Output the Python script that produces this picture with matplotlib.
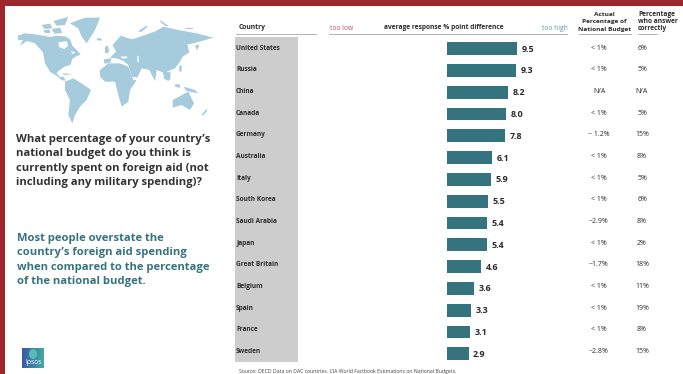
import matplotlib
matplotlib.use("Agg")
import matplotlib.pyplot as plt
import numpy as np
from matplotlib.patches import Rectangle, Polygon, Ellipse
from matplotlib.transforms import Affine2D

W, H = 683, 374
countries = ["United States", "Russia", "China", "Canada", "Germany", "Australia", "Italy",
             "South Korea", "Saudi Arabia", "Japan", "Great Britain", "Belgium", "Spain",
             "France", "Sweden"]
difference = [9.5, 9.3, 8.2, 8.0, 7.8, 6.1, 5.9, 5.5, 5.4, 5.4, 4.6, 3.6, 3.3, 3.1, 2.9]
actual = ["< 1%", "< 1%", "N/A", "< 1%", "~ 1.2%", "< 1%", "< 1%", "< 1%", "~2.9%", "< 1%",
          "~1.7%", "< 1%", "< 1%", "< 1%", "~2.8%"]
correct = ["6%", "5%", "N/A", "5%", "15%", "8%", "5%", "6%", "8%", "2%", "18%", "11%", "19%", "8%", "15%"]

RED = "#9c272d"
TEAL = "#35747f"
DARK = "#2b2b2b"
MAP = "#a5cbdd"
plt.rcParams["font.family"] = ["Open Sans", "DejaVu Sans"]

fig = plt.figure(figsize=(W / 100, H / 100), dpi=100)
px = Affine2D().scale(1 / W, -1 / H).translate(0, 1) + fig.transFigure


def rect(x, y, w, h, c, z=1):
    fig.add_artist(Rectangle((x, y), w, h, transform=px, fc=c, ec="none", zorder=z))


def label(x, y, s, size=6, weight="normal", color=DARK, ha="left", va="center", **kw):
    fig.text(x, y, s, transform=px, fontsize=size, fontweight=weight, color=color, ha=ha, va=va, **kw)


# frame
rect(0, 0, W, 6.3, RED)
rect(0, 0, 5, H, RED)

west = [
    [(8, 62), (30, 55), (60, 58), (85, 62), (105, 66), (125, 62), (150, 64), (165, 72), (172, 92),
     (185, 105), (197, 118), (182, 125), (172, 132), (166, 150), (148, 155), (135, 165), (125, 172), (133, 185), (146, 186),
     (152, 197), (140, 196), (125, 182), (105, 170), (90, 145), (84, 112), (60, 85), (36, 78), (15, 92), (24, 75), (10, 76)],
    [(165, 25), (210, 8), (255, 8), (240, 45), (215, 85), (200, 65), (190, 40)],
    [(150, 200), (175, 190), (200, 205), (228, 225), (215, 255), (195, 275), (180, 300), (172, 325), (160, 300), (165, 255), (150, 225)],
    [(80, 30), (105, 26), (112, 40), (88, 42)], [(115, 18), (160, 6), (150, 30), (125, 32)], [(110, 42), (135, 38), (142, 54), (118, 56)],
    [(85, 46), (105, 44), (105, 54), (90, 54)], [(245, 70), (260, 70), (258, 77), (246, 76)], [(140, 174), (172, 178), (150, 180)],
]
west_seas = [[(130, 82), (155, 78), (160, 92), (148, 102), (132, 96)], [(168, 108), (182, 112), (172, 118)]]
east = [
    [(0, 165), (25, 145), (60, 145), (85, 155), (100, 195), (110, 195), (90, 225), (85, 260), (65, 275), (55, 240), (45, 200), (15, 200), (0, 185)],
    [(30, 128), (48, 110), (38, 90), (62, 62), (85, 70), (100, 72), (130, 62), (168, 48), (190, 35), (235, 45), (290, 55), (340, 68),
     (305, 78), (280, 85), (262, 88), (268, 112), (248, 125), (240, 140), (225, 160), (205, 168), (195, 175), (208, 198), (198, 195),
     (188, 172), (170, 165), (165, 198), (148, 165), (125, 160), (118, 175), (112, 188), (96, 185), (85, 150), (70, 138), (50, 130), (30, 128)],
    [(12, 133), (35, 130), (30, 143), (13, 146)], [(15, 95), (24, 92), (28, 112), (15, 115)],
    [(190, 170), (212, 172), (210, 195), (192, 192)], [(218, 255), (250, 238), (265, 230), (282, 265), (270, 285), (245, 270), (218, 278)],
    [(225, 208), (240, 208), (240, 218), (226, 216)], [(250, 215), (285, 225), (295, 235), (260, 228)],
    [(305, 298), (322, 280), (320, 290), (308, 302)], [(255, 38), (280, 38), (280, 43), (258, 43)],
    [(115, 48), (140, 32), (142, 36), (122, 52)], [(285, 92), (298, 88), (292, 106)], [(180, 15), (205, 32), (198, 34), (182, 22)],
    [(238, 152), (246, 152), (244, 170), (238, 170)],
]
east_seas = [[(62, 125), (82, 124), (80, 130), (65, 130)], [(112, 122), (116, 123), (116, 143), (112, 141)]]
for shapes, ox, color, z in [(west, 15, MAP, 2), (east, 100, MAP, 2), (west_seas, 15, "white", 3), (east_seas, 100, "white", 3)]:
    for poly in shapes:
        fig.add_artist(Polygon([(ox + x / 3, 15 + y / 3) for x, y in poly], closed=True, transform=px, fc=color, ec="none", zorder=z))

# left text
for y, s in zip([139.3, 153.9, 168.6, 183.0],
                ["What percentage of your country\u2019s", "national budget do you think is",
                 "currently spent on foreign aid (not", "including any military spending)?"]):
    label(16, y, s, size=8.13, weight="bold", color="#333333")
for y, s in zip([238.3, 253.0, 267.6, 281.8],
                ["Most people overstate the", "country\u2019s foreign aid spending",
                 "when compared to the percentage", "of the national budget."]):
    label(17, y, s, size=8.13, weight="bold", color=TEAL)

# logo
grad = np.linspace(0, 1, 24)[None, :]
lax = fig.add_axes([22 / W, 1 - 368 / H, 22 / W, 20 / H])
lax.imshow(grad, aspect="auto", cmap=matplotlib.colors.LinearSegmentedColormap.from_list("l", ["#3a5aa8", "#45a8a6"]))
lax.axis("off")
fig.add_artist(Ellipse((33, 354), 8, 10, transform=px, fc="#56bdb5", ec="none", zorder=5))
label(33, 362.7, "Ipsos", size=4.8, color="white", ha="center", zorder=6)

# table background
rect(235, 37, 63, 325, "#cdcdcd", 0)

# headers
for x0, x1 in [(236, 317), (329, 568), (579, 632), (638, 658)]:
    rect(x0, 33.7, x1 - x0, 1.2, "#b5b5b5")
label(239, 27.5, "Country", size=4.9, weight="bold")
label(330, 28, "too low", size=4.9, color="#c8506b")
label(444, 27.5, "average response % point difference", size=4.75, weight="bold", ha="center")
label(568, 28, "too high", size=4.9, color="#5f9ea5", ha="right")
for y, s in zip([14, 21, 29], ["Actual", "Percentage of", "National Budget"]):
    label(604.5, y, s, size=4.65, weight="bold", ha="center")
for y, s in zip([14.7, 21.7, 29], ["Percentage", "who answer", "correctly"]):
    label(638, y, s, size=4.75, weight="bold")

# bars (data axis)
x0_px, unit = 447.0, 7.42
top, step = 48.6, 21.8
left_px, right_px, top_px, bot_px = 330, 568, 37, 362
ax = fig.add_axes([left_px / W, 1 - bot_px / H, (right_px - left_px) / W, (bot_px - top_px) / H])
ax.set_xlim((left_px - x0_px) / unit, (right_px - x0_px) / unit)
ax.set_ylim((bot_px - top) / step, (top_px - top) / step)
ax.axis("off")
rows = list(range(len(countries)))
ax.barh(rows, difference, height=12.8 / step, color=TEAL, edgecolor="none")
for r, v in zip(rows, difference):
    ax.text(v + 0.6, r + 0.02, f"{v:.1f}", fontsize=6.4, fontweight="bold", color=DARK, va="center", ha="left")

label_step = 21.67
for r, c, a, k in zip(rows, countries, actual, correct):
    y = 48.2 + r * label_step
    label(236, y, c, size=4.7, weight="bold")
    label(599, y, a, size=5.0, ha="center")
    label(642, y, k, size=5.0, ha="center")

label(347.5, 371.5, "Source: OECD Data on DAC countries. CIA World Factbook Estimations on National Budgets.",
      size=3.72, ha="center", color="#444444")

fig.savefig("out.png", dpi=100)
